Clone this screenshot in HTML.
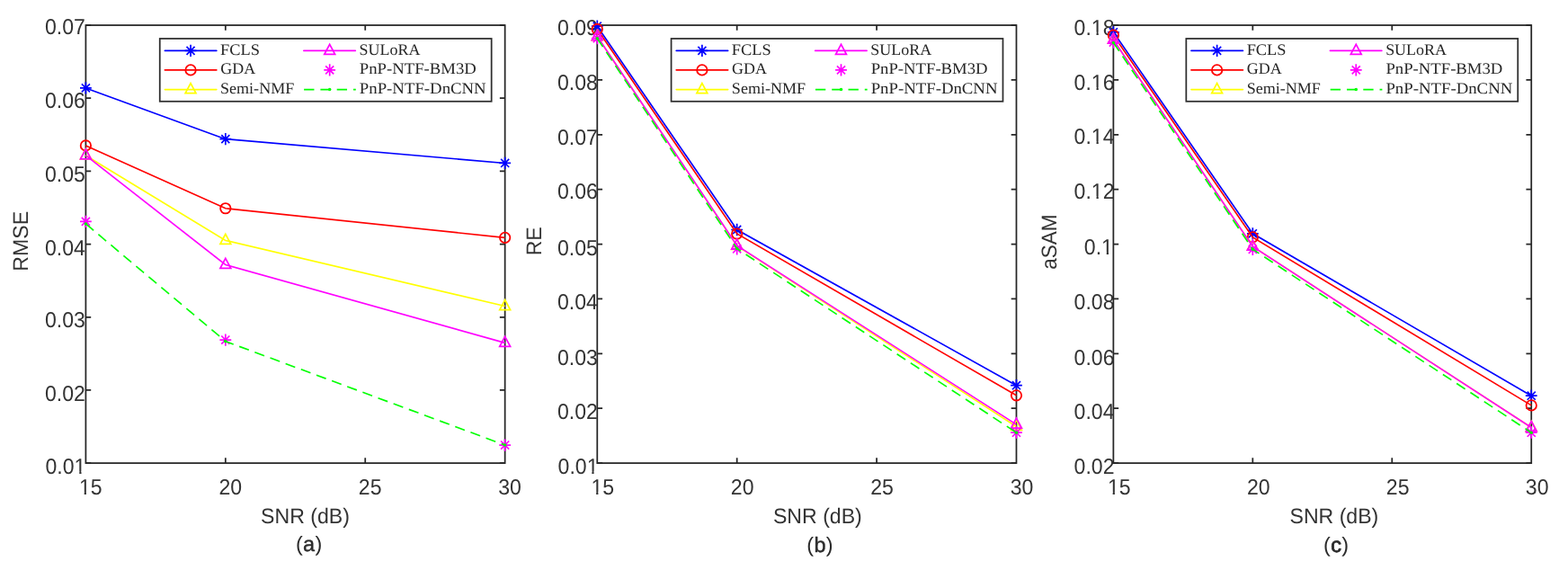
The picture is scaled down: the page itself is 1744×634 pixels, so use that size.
<!DOCTYPE html>
<html lang="en">
<head>
<meta charset="utf-8">
<title>Unmixing results versus SNR</title>
<style>
html,body{margin:0;padding:0;background:#fff;}
body{width:1744px;height:634px;overflow:hidden;}
svg{display:block;}
text{text-rendering:geometricPrecision;}
.tk{font-family:"Liberation Sans",Arial,Helvetica,sans-serif;font-size:24.4px;fill:#333333;}
.lb{font-family:"Liberation Sans",Arial,Helvetica,sans-serif;font-size:23.7px;fill:#333333;}
.cp{font-family:"Liberation Sans",Arial,Helvetica,sans-serif;font-size:23.4px;fill:#2b2b2b;letter-spacing:0.3px;}
.lg{font-family:"Liberation Serif","Times New Roman",serif;font-size:17.6px;fill:#262626;}
</style>
</head>
<body>
<svg width="1744" height="634" viewBox="0 0 1744 634">
<rect width="1744" height="634" fill="#ffffff"/>
<defs>
<clipPath id="k1"><path clip-rule="evenodd" d="M-200 -40H200V20H-200ZM-12.61 -3.02H-7.55V2H-12.61ZM-5.16 -3.02H-0.29V2H-5.16Z"/></clipPath>
<clipPath id="k2"><path clip-rule="evenodd" d="M-200 -40H200V20H-200ZM-26.18 -3.02H-21.12V2H-26.18ZM-18.73 -3.02H-13.86V2H-18.73Z"/></clipPath>
</defs>

<g>
<rect x="95.4" y="28.05" width="466.25" height="487.05" fill="none" stroke="#262626" stroke-width="1.75"/>
<path d="M250.82 515.1v-5.8M250.82 28.05v5.8M406.23 515.1v-5.8M406.23 28.05v5.8M95.4 28.05h5.8M561.65 28.05h-5.8M95.4 109.22h5.8M561.65 109.22h-5.8M95.4 190.4h5.8M561.65 190.4h-5.8M95.4 271.57h5.8M561.65 271.57h-5.8M95.4 352.75h5.8M561.65 352.75h-5.8M95.4 433.93h5.8M561.65 433.93h-5.8M95.4 515.1h5.8M561.65 515.1h-5.8" stroke="#262626" stroke-width="1.75" fill="none"/>
<text class="tk" transform="translate(100.8 550.2) scale(0.945 1)" text-anchor="middle" clip-path="url(#k1)">15</text>
<text class="tk" transform="translate(256.22 550.2) scale(0.945 1)" text-anchor="middle">20</text>
<text class="tk" transform="translate(411.63 550.2) scale(0.945 1)" text-anchor="middle">25</text>
<text class="tk" transform="translate(567.05 550.2) scale(0.945 1)" text-anchor="middle">30</text>
<text class="tk" transform="translate(94.8 38.45) scale(0.945 1)" text-anchor="end">0.07</text>
<text class="tk" transform="translate(94.8 120.18) scale(0.945 1)" text-anchor="end">0.06</text>
<text class="tk" transform="translate(94.8 201.98) scale(0.945 1)" text-anchor="end">0.05</text>
<text class="tk" transform="translate(94.8 283.65) scale(0.945 1)" text-anchor="end">0.04</text>
<text class="tk" transform="translate(94.8 364.05) scale(0.945 1)" text-anchor="end">0.03</text>
<text class="tk" transform="translate(94.8 445.8) scale(0.945 1)" text-anchor="end">0.02</text>
<text class="tk" transform="translate(95.4 527.32) scale(0.945 1)" text-anchor="end" clip-path="url(#k1)">0.01</text>
<text class="lb" transform="translate(339.52 582) scale(0.975 1)" text-anchor="middle">SNR (dB)</text>
<text class="cp" transform="translate(343.72 613) scale(1.0 1)" text-anchor="middle">(<tspan stroke="#2b2b2b" stroke-width="0.4" stroke-linejoin="round">a</tspan>)</text>
<text class="lb" transform="translate(31.1 268.27) rotate(-90) scale(0.975 1)" text-anchor="middle">RMSE</text>
<polyline points="95.4,97.9 250.82,154.67 561.65,181.47" fill="none" stroke="#0000ff" stroke-width="1.65"/>
<path d="M89 97.9H101.8M95.4 91.25V104.55M90.87 93.37L99.93 102.43M90.87 102.43L99.93 93.37" stroke="#0000ff" stroke-width="1.7" fill="none"/>
<path d="M244.42 154.67H257.22M250.82 148.02V161.32M246.29 150.14L255.34 159.2M246.29 159.2L255.34 150.14" stroke="#0000ff" stroke-width="1.7" fill="none"/>
<path d="M555.25 181.47H568.05M561.65 174.82V188.12M557.12 176.94L566.18 186M557.12 186L566.18 176.94" stroke="#0000ff" stroke-width="1.7" fill="none"/>
<polyline points="95.4,161.94 250.82,231.77 561.65,264.35" fill="none" stroke="#ff0000" stroke-width="1.65"/>
<circle cx="95.4" cy="161.94" r="5.7" stroke="#ff0000" stroke-width="1.8" fill="none"/>
<circle cx="250.82" cy="231.77" r="5.7" stroke="#ff0000" stroke-width="1.8" fill="none"/>
<circle cx="561.65" cy="264.35" r="5.7" stroke="#ff0000" stroke-width="1.8" fill="none"/>
<polyline points="95.4,172.95 250.82,267.45 561.65,340.55" fill="none" stroke="#ffff00" stroke-width="1.65"/>
<path d="M95.4 165.9L101.3 176.9H89.5Z" stroke="#ffff00" stroke-width="1.75" fill="none" stroke-linejoin="miter"/>
<path d="M250.82 260.4L256.72 271.4H244.92Z" stroke="#ffff00" stroke-width="1.75" fill="none" stroke-linejoin="miter"/>
<path d="M561.65 333.5L567.55 344.5H555.75Z" stroke="#ffff00" stroke-width="1.75" fill="none" stroke-linejoin="miter"/>
<polyline points="95.4,172.95 250.82,294.45 561.65,381.35" fill="none" stroke="#ff00ff" stroke-width="1.65"/>
<path d="M95.4 165.9L101.3 176.9H89.5Z" stroke="#ff00ff" stroke-width="1.75" fill="none" stroke-linejoin="miter"/>
<path d="M250.82 287.4L256.72 298.4H244.92Z" stroke="#ff00ff" stroke-width="1.75" fill="none" stroke-linejoin="miter"/>
<path d="M561.65 374.3L567.55 385.3H555.75Z" stroke="#ff00ff" stroke-width="1.75" fill="none" stroke-linejoin="miter"/>
<path d="M89 246.43H101.8M95.4 239.78V253.08M90.87 241.9L99.93 250.96M90.87 250.96L99.93 241.9" stroke="#ff00ff" stroke-width="1.7" fill="none"/>
<path d="M244.42 378.05H257.22M250.82 371.4V384.7M246.29 373.52L255.34 382.58M246.29 382.58L255.34 373.52" stroke="#ff00ff" stroke-width="1.7" fill="none"/>
<path d="M555.25 495.05H568.05M561.65 488.4V501.7M557.12 490.52L566.18 499.58M557.12 499.58L566.18 490.52" stroke="#ff00ff" stroke-width="1.7" fill="none"/>
<polyline points="95.4,248.94 250.82,379.66 561.65,495.05" fill="none" stroke="#00ff00" stroke-width="1.65" stroke-dasharray="11.35 6.94"/>
<circle cx="95.4" cy="248.94" r="1.75" fill="#00ff00"/>
<circle cx="250.82" cy="379.66" r="1.75" fill="#00ff00"/>
<circle cx="561.65" cy="495.05" r="1.75" fill="#00ff00"/>
<rect x="177.75" y="42.96" width="368.9" height="69.84" fill="#ffffff" stroke="#2e2e2e" stroke-width="1.75"/>
<path d="M183.35 56.4H240.85" stroke="#0000ff" stroke-width="1.65" fill="none" stroke-linecap="round"/>
<path d="M205.65 56.4H218.45M212.05 49.75V63.05M207.52 51.87L216.58 60.93M207.52 60.93L216.58 51.87" stroke="#0000ff" stroke-width="1.7" fill="none"/>
<text class="lg" transform="translate(245.05 60.7) scale(1.043 1)">FCLS</text>
<path d="M183.35 77.9H240.85" stroke="#ff0000" stroke-width="1.65" fill="none" stroke-linecap="round"/>
<circle cx="212.05" cy="77.9" r="5.7" stroke="#ff0000" stroke-width="1.8" fill="none"/>
<text class="lg" transform="translate(245.25 82.2) scale(1.02 1)">GDA</text>
<path d="M183.35 99.6H240.85" stroke="#ffff00" stroke-width="1.65" fill="none" stroke-linecap="round"/>
<path d="M212.05 92.55L217.95 103.55H206.15Z" stroke="#ffff00" stroke-width="1.75" fill="none" stroke-linejoin="miter"/>
<text class="lg" transform="translate(245.05 103.9) scale(1.025 1)">Semi-NMF</text>
<path d="M337.81 56.4H395.31" stroke="#ff00ff" stroke-width="1.65" fill="none" stroke-linecap="round"/>
<path d="M366.68 49.35L372.58 60.35H360.78Z" stroke="#ff00ff" stroke-width="1.75" fill="none" stroke-linejoin="miter"/>
<text class="lg" transform="translate(399.55 60.7) scale(1.02 1)">SULoRA</text>
<path d="M360.28 77.9H373.08M366.68 71.25V84.55M362.15 73.37L371.21 82.43M362.15 82.43L371.21 73.37" stroke="#ff00ff" stroke-width="1.7" fill="none"/>
<text class="lg" transform="translate(399.85 82.2) scale(1.063 1)">PnP-NTF-BM3D</text>
<path d="M338.11 99.6H395.81" stroke="#00ff00" stroke-width="1.65" fill="none" stroke-dasharray="11.35 6.94"/>
<circle cx="366.68" cy="99.6" r="1.75" fill="#00ff00"/>
<text class="lg" transform="translate(399.85 103.9) scale(1.067 1)">PnP-NTF-DnCNN</text>
</g>
<g>
<rect x="664.27" y="28.05" width="466.2" height="487.05" fill="none" stroke="#262626" stroke-width="1.75"/>
<path d="M819.67 515.1v-5.8M819.67 28.05v5.8M975.07 515.1v-5.8M975.07 28.05v5.8M664.27 28.05h5.8M1130.47 28.05h-5.8M664.27 88.93h5.8M1130.47 88.93h-5.8M664.27 149.81h5.8M1130.47 149.81h-5.8M664.27 210.69h5.8M1130.47 210.69h-5.8M664.27 271.57h5.8M1130.47 271.57h-5.8M664.27 332.46h5.8M1130.47 332.46h-5.8M664.27 393.34h5.8M1130.47 393.34h-5.8M664.27 454.22h5.8M1130.47 454.22h-5.8M664.27 515.1h5.8M1130.47 515.1h-5.8" stroke="#262626" stroke-width="1.75" fill="none"/>
<text class="tk" transform="translate(670.27 550.2) scale(0.945 1)" text-anchor="middle" clip-path="url(#k1)">15</text>
<text class="tk" transform="translate(825.67 550.2) scale(0.945 1)" text-anchor="middle">20</text>
<text class="tk" transform="translate(981.07 550.2) scale(0.945 1)" text-anchor="middle">25</text>
<text class="tk" transform="translate(1136.47 550.2) scale(0.945 1)" text-anchor="middle">30</text>
<text class="tk" transform="translate(664.87 38.6) scale(0.945 1)" text-anchor="end">0.09</text>
<text class="tk" transform="translate(664.87 100) scale(0.945 1)" text-anchor="end">0.08</text>
<text class="tk" transform="translate(664.87 160.5) scale(0.945 1)" text-anchor="end">0.07</text>
<text class="tk" transform="translate(664.87 221.15) scale(0.945 1)" text-anchor="end">0.06</text>
<text class="tk" transform="translate(664.87 283.6) scale(0.945 1)" text-anchor="end">0.05</text>
<text class="tk" transform="translate(664.87 344.25) scale(0.945 1)" text-anchor="end">0.04</text>
<text class="tk" transform="translate(664.87 405.5) scale(0.945 1)" text-anchor="end">0.03</text>
<text class="tk" transform="translate(664.87 466.15) scale(0.945 1)" text-anchor="end">0.02</text>
<text class="tk" transform="translate(665.47 527.32) scale(0.945 1)" text-anchor="end" clip-path="url(#k1)">0.01</text>
<text class="lb" transform="translate(909.37 582) scale(0.975 1)" text-anchor="middle">SNR (dB)</text>
<text class="cp" transform="translate(912.07 614.2) scale(1.0 1)" text-anchor="middle">(<tspan stroke="#2b2b2b" stroke-width="0.45" stroke-linejoin="round">b</tspan>)</text>
<text class="lb" transform="translate(601.67 268.27) rotate(-90) scale(0.975 1)" text-anchor="middle">RE</text>
<polyline points="664.27,29.2 819.67,255.5 1130.47,428.7" fill="none" stroke="#0000ff" stroke-width="1.65"/>
<path d="M657.87 29.2H670.67M664.27 22.55V35.85M659.74 24.67L668.8 33.73M659.74 33.73L668.8 24.67" stroke="#0000ff" stroke-width="1.7" fill="none"/>
<path d="M813.27 255.5H826.07M819.67 248.85V262.15M815.14 250.97L824.2 260.03M815.14 260.03L824.2 250.97" stroke="#0000ff" stroke-width="1.7" fill="none"/>
<path d="M1124.07 428.7H1136.87M1130.47 422.05V435.35M1125.94 424.17L1135 433.23M1125.94 433.23L1135 424.17" stroke="#0000ff" stroke-width="1.7" fill="none"/>
<polyline points="664.27,32.46 819.67,260 1130.47,439.8" fill="none" stroke="#ff0000" stroke-width="1.65"/>
<circle cx="664.27" cy="32.46" r="5.7" stroke="#ff0000" stroke-width="1.8" fill="none"/>
<circle cx="819.67" cy="260" r="5.7" stroke="#ff0000" stroke-width="1.8" fill="none"/>
<circle cx="1130.47" cy="439.8" r="5.7" stroke="#ff0000" stroke-width="1.8" fill="none"/>
<polyline points="664.27,40.55 819.67,273.35 1130.47,474.45" fill="none" stroke="#ffff00" stroke-width="1.65"/>
<path d="M664.27 33.5L670.17 44.5H658.37Z" stroke="#ffff00" stroke-width="1.75" fill="none" stroke-linejoin="miter"/>
<path d="M819.67 266.3L825.57 277.3H813.77Z" stroke="#ffff00" stroke-width="1.75" fill="none" stroke-linejoin="miter"/>
<path d="M1130.47 467.4L1136.37 478.4H1124.57Z" stroke="#ffff00" stroke-width="1.75" fill="none" stroke-linejoin="miter"/>
<polyline points="664.27,40.55 819.67,273.15 1130.47,472.15" fill="none" stroke="#ff00ff" stroke-width="1.65"/>
<path d="M664.27 33.5L670.17 44.5H658.37Z" stroke="#ff00ff" stroke-width="1.75" fill="none" stroke-linejoin="miter"/>
<path d="M819.67 266.1L825.57 277.1H813.77Z" stroke="#ff00ff" stroke-width="1.75" fill="none" stroke-linejoin="miter"/>
<path d="M1130.47 465.1L1136.37 476.1H1124.57Z" stroke="#ff00ff" stroke-width="1.75" fill="none" stroke-linejoin="miter"/>
<path d="M657.87 42.7H670.67M664.27 36.05V49.35M659.74 38.17L668.8 47.23M659.74 47.23L668.8 38.17" stroke="#ff00ff" stroke-width="1.7" fill="none"/>
<path d="M813.27 276.8H826.07M819.67 270.15V283.45M815.14 272.27L824.2 281.33M815.14 281.33L824.2 272.27" stroke="#ff00ff" stroke-width="1.7" fill="none"/>
<path d="M1124.07 481.2H1136.87M1130.47 474.55V487.85M1125.94 476.67L1135 485.73M1125.94 485.73L1135 476.67" stroke="#ff00ff" stroke-width="1.7" fill="none"/>
<polyline points="664.27,42.67 819.67,276.5 1130.47,481.2" fill="none" stroke="#00ff00" stroke-width="1.65" stroke-dasharray="11.35 6.94"/>
<circle cx="664.27" cy="42.67" r="1.75" fill="#00ff00"/>
<circle cx="819.67" cy="276.5" r="1.75" fill="#00ff00"/>
<circle cx="1130.47" cy="481.2" r="1.75" fill="#00ff00"/>
<rect x="746.57" y="42.96" width="368.9" height="69.84" fill="#ffffff" stroke="#2e2e2e" stroke-width="1.75"/>
<path d="M752.17 56.4H809.67" stroke="#0000ff" stroke-width="1.65" fill="none" stroke-linecap="round"/>
<path d="M774.47 56.4H787.27M780.87 49.75V63.05M776.34 51.87L785.4 60.93M776.34 60.93L785.4 51.87" stroke="#0000ff" stroke-width="1.7" fill="none"/>
<text class="lg" transform="translate(813.87 60.7) scale(1.043 1)">FCLS</text>
<path d="M752.17 77.9H809.67" stroke="#ff0000" stroke-width="1.65" fill="none" stroke-linecap="round"/>
<circle cx="780.87" cy="77.9" r="5.7" stroke="#ff0000" stroke-width="1.8" fill="none"/>
<text class="lg" transform="translate(814.07 82.2) scale(1.02 1)">GDA</text>
<path d="M752.17 99.6H809.67" stroke="#ffff00" stroke-width="1.65" fill="none" stroke-linecap="round"/>
<path d="M780.87 92.55L786.77 103.55H774.97Z" stroke="#ffff00" stroke-width="1.75" fill="none" stroke-linejoin="miter"/>
<text class="lg" transform="translate(813.87 103.9) scale(1.025 1)">Semi-NMF</text>
<path d="M906.63 56.4H964.13" stroke="#ff00ff" stroke-width="1.65" fill="none" stroke-linecap="round"/>
<path d="M935.5 49.35L941.4 60.35H929.6Z" stroke="#ff00ff" stroke-width="1.75" fill="none" stroke-linejoin="miter"/>
<text class="lg" transform="translate(968.37 60.7) scale(1.02 1)">SULoRA</text>
<path d="M929.1 77.9H941.9M935.5 71.25V84.55M930.97 73.37L940.03 82.43M930.97 82.43L940.03 73.37" stroke="#ff00ff" stroke-width="1.7" fill="none"/>
<text class="lg" transform="translate(968.67 82.2) scale(1.063 1)">PnP-NTF-BM3D</text>
<path d="M906.93 99.6H964.63" stroke="#00ff00" stroke-width="1.65" fill="none" stroke-dasharray="11.35 6.94"/>
<circle cx="935.5" cy="99.6" r="1.75" fill="#00ff00"/>
<text class="lg" transform="translate(968.67 103.9) scale(1.067 1)">PnP-NTF-DnCNN</text>
</g>
<g>
<rect x="1238.37" y="28.05" width="464.86" height="487.05" fill="none" stroke="#262626" stroke-width="1.75"/>
<path d="M1393.32 515.1v-5.8M1393.32 28.05v5.8M1548.28 515.1v-5.8M1548.28 28.05v5.8M1238.37 28.05h5.8M1703.23 28.05h-5.8M1238.37 88.93h5.8M1703.23 88.93h-5.8M1238.37 149.81h5.8M1703.23 149.81h-5.8M1238.37 210.69h5.8M1703.23 210.69h-5.8M1238.37 271.57h5.8M1703.23 271.57h-5.8M1238.37 332.46h5.8M1703.23 332.46h-5.8M1238.37 393.34h5.8M1703.23 393.34h-5.8M1238.37 454.22h5.8M1703.23 454.22h-5.8M1238.37 515.1h5.8M1703.23 515.1h-5.8" stroke="#262626" stroke-width="1.75" fill="none"/>
<text class="tk" transform="translate(1244.77 550.2) scale(0.945 1)" text-anchor="middle" clip-path="url(#k1)">15</text>
<text class="tk" transform="translate(1399.72 550.2) scale(0.945 1)" text-anchor="middle">20</text>
<text class="tk" transform="translate(1554.68 550.2) scale(0.945 1)" text-anchor="middle">25</text>
<text class="tk" transform="translate(1709.63 550.2) scale(0.945 1)" text-anchor="middle">30</text>
<text class="tk" transform="translate(1239.47 38.6) scale(0.945 1)" text-anchor="end" clip-path="url(#k2)">0.18</text>
<text class="tk" transform="translate(1239.47 100) scale(0.945 1)" text-anchor="end" clip-path="url(#k2)">0.16</text>
<text class="tk" transform="translate(1239.47 160.35) scale(0.945 1)" text-anchor="end" clip-path="url(#k2)">0.14</text>
<text class="tk" transform="translate(1239.47 221.15) scale(0.945 1)" text-anchor="end" clip-path="url(#k2)">0.12</text>
<text class="tk" transform="translate(1237.87 283.45) scale(0.945 1)" text-anchor="end" clip-path="url(#k1)">0.1</text>
<text class="tk" transform="translate(1239.47 344.25) scale(0.945 1)" text-anchor="end">0.08</text>
<text class="tk" transform="translate(1239.47 405.5) scale(0.945 1)" text-anchor="end">0.06</text>
<text class="tk" transform="translate(1239.47 466.15) scale(0.945 1)" text-anchor="end">0.04</text>
<text class="tk" transform="translate(1239.47 527.25) scale(0.945 1)" text-anchor="end">0.02</text>
<text class="lb" transform="translate(1483.9 582) scale(0.975 1)" text-anchor="middle">SNR (dB)</text>
<text class="cp" transform="translate(1486.2 614) scale(1.0 1)" text-anchor="middle">(<tspan stroke="#2b2b2b" stroke-width="0.85" stroke-linejoin="round">c</tspan>)</text>
<text class="lb" transform="translate(1174.97 269.07) rotate(-90) scale(0.952 1)" text-anchor="middle">aSAM</text>
<polyline points="1238.37,35.8 1393.32,259.8 1703.23,440.2" fill="none" stroke="#0000ff" stroke-width="1.65"/>
<path d="M1231.97 35.8H1244.77M1238.37 29.15V42.45M1233.84 31.27L1242.9 40.33M1233.84 40.33L1242.9 31.27" stroke="#0000ff" stroke-width="1.7" fill="none"/>
<path d="M1386.92 259.8H1399.72M1393.32 253.15V266.45M1388.8 255.27L1397.85 264.33M1388.8 264.33L1397.85 255.27" stroke="#0000ff" stroke-width="1.7" fill="none"/>
<path d="M1696.83 440.2H1709.63M1703.23 433.55V446.85M1698.7 435.67L1707.76 444.73M1698.7 444.73L1707.76 435.67" stroke="#0000ff" stroke-width="1.7" fill="none"/>
<polyline points="1238.37,39.2 1393.32,263.9 1703.23,450.9" fill="none" stroke="#ff0000" stroke-width="1.65"/>
<circle cx="1238.37" cy="39.2" r="5.7" stroke="#ff0000" stroke-width="1.8" fill="none"/>
<circle cx="1393.32" cy="263.9" r="5.7" stroke="#ff0000" stroke-width="1.8" fill="none"/>
<circle cx="1703.23" cy="450.9" r="5.7" stroke="#ff0000" stroke-width="1.8" fill="none"/>
<polyline points="1238.37,44.25 1393.32,274.25 1703.23,475.55" fill="none" stroke="#ffff00" stroke-width="1.65"/>
<path d="M1238.37 37.2L1244.27 48.2H1232.47Z" stroke="#ffff00" stroke-width="1.75" fill="none" stroke-linejoin="miter"/>
<path d="M1393.32 267.2L1399.22 278.2H1387.42Z" stroke="#ffff00" stroke-width="1.75" fill="none" stroke-linejoin="miter"/>
<path d="M1703.23 468.5L1709.13 479.5H1697.33Z" stroke="#ffff00" stroke-width="1.75" fill="none" stroke-linejoin="miter"/>
<polyline points="1238.37,44.25 1393.32,274.25 1703.23,475.55" fill="none" stroke="#ff00ff" stroke-width="1.65"/>
<path d="M1238.37 37.2L1244.27 48.2H1232.47Z" stroke="#ff00ff" stroke-width="1.75" fill="none" stroke-linejoin="miter"/>
<path d="M1393.32 267.2L1399.22 278.2H1387.42Z" stroke="#ff00ff" stroke-width="1.75" fill="none" stroke-linejoin="miter"/>
<path d="M1703.23 468.5L1709.13 479.5H1697.33Z" stroke="#ff00ff" stroke-width="1.75" fill="none" stroke-linejoin="miter"/>
<path d="M1231.97 47H1244.77M1238.37 40.35V53.65M1233.84 42.47L1242.9 51.53M1233.84 51.53L1242.9 42.47" stroke="#ff00ff" stroke-width="1.7" fill="none"/>
<path d="M1386.92 277.3H1399.72M1393.32 270.65V283.95M1388.8 272.77L1397.85 281.83M1388.8 281.83L1397.85 272.77" stroke="#ff00ff" stroke-width="1.7" fill="none"/>
<path d="M1696.83 481.2H1709.63M1703.23 474.55V487.85M1698.7 476.67L1707.76 485.73M1698.7 485.73L1707.76 476.67" stroke="#ff00ff" stroke-width="1.7" fill="none"/>
<polyline points="1238.37,47.4 1393.32,277.2 1703.23,481.2" fill="none" stroke="#00ff00" stroke-width="1.65" stroke-dasharray="11.35 6.94"/>
<circle cx="1238.37" cy="47.4" r="1.75" fill="#00ff00"/>
<circle cx="1393.32" cy="277.2" r="1.75" fill="#00ff00"/>
<circle cx="1703.23" cy="481.2" r="1.75" fill="#00ff00"/>
<rect x="1319.33" y="42.96" width="368.9" height="69.84" fill="#ffffff" stroke="#2e2e2e" stroke-width="1.75"/>
<path d="M1324.93 56.4H1382.43" stroke="#0000ff" stroke-width="1.65" fill="none" stroke-linecap="round"/>
<path d="M1347.23 56.4H1360.03M1353.63 49.75V63.05M1349.1 51.87L1358.16 60.93M1349.1 60.93L1358.16 51.87" stroke="#0000ff" stroke-width="1.7" fill="none"/>
<text class="lg" transform="translate(1386.63 60.7) scale(1.043 1)">FCLS</text>
<path d="M1324.93 77.9H1382.43" stroke="#ff0000" stroke-width="1.65" fill="none" stroke-linecap="round"/>
<circle cx="1353.63" cy="77.9" r="5.7" stroke="#ff0000" stroke-width="1.8" fill="none"/>
<text class="lg" transform="translate(1386.83 82.2) scale(1.02 1)">GDA</text>
<path d="M1324.93 99.6H1382.43" stroke="#ffff00" stroke-width="1.65" fill="none" stroke-linecap="round"/>
<path d="M1353.63 92.55L1359.53 103.55H1347.73Z" stroke="#ffff00" stroke-width="1.75" fill="none" stroke-linejoin="miter"/>
<text class="lg" transform="translate(1386.63 103.9) scale(1.025 1)">Semi-NMF</text>
<path d="M1479.39 56.4H1536.89" stroke="#ff00ff" stroke-width="1.65" fill="none" stroke-linecap="round"/>
<path d="M1508.26 49.35L1514.16 60.35H1502.36Z" stroke="#ff00ff" stroke-width="1.75" fill="none" stroke-linejoin="miter"/>
<text class="lg" transform="translate(1541.13 60.7) scale(1.02 1)">SULoRA</text>
<path d="M1501.86 77.9H1514.66M1508.26 71.25V84.55M1503.73 73.37L1512.79 82.43M1503.73 82.43L1512.79 73.37" stroke="#ff00ff" stroke-width="1.7" fill="none"/>
<text class="lg" transform="translate(1541.43 82.2) scale(1.063 1)">PnP-NTF-BM3D</text>
<path d="M1479.69 99.6H1537.39" stroke="#00ff00" stroke-width="1.65" fill="none" stroke-dasharray="11.35 6.94"/>
<circle cx="1508.26" cy="99.6" r="1.75" fill="#00ff00"/>
<text class="lg" transform="translate(1541.43 103.9) scale(1.067 1)">PnP-NTF-DnCNN</text>
</g>
</svg>
</body>
</html>
